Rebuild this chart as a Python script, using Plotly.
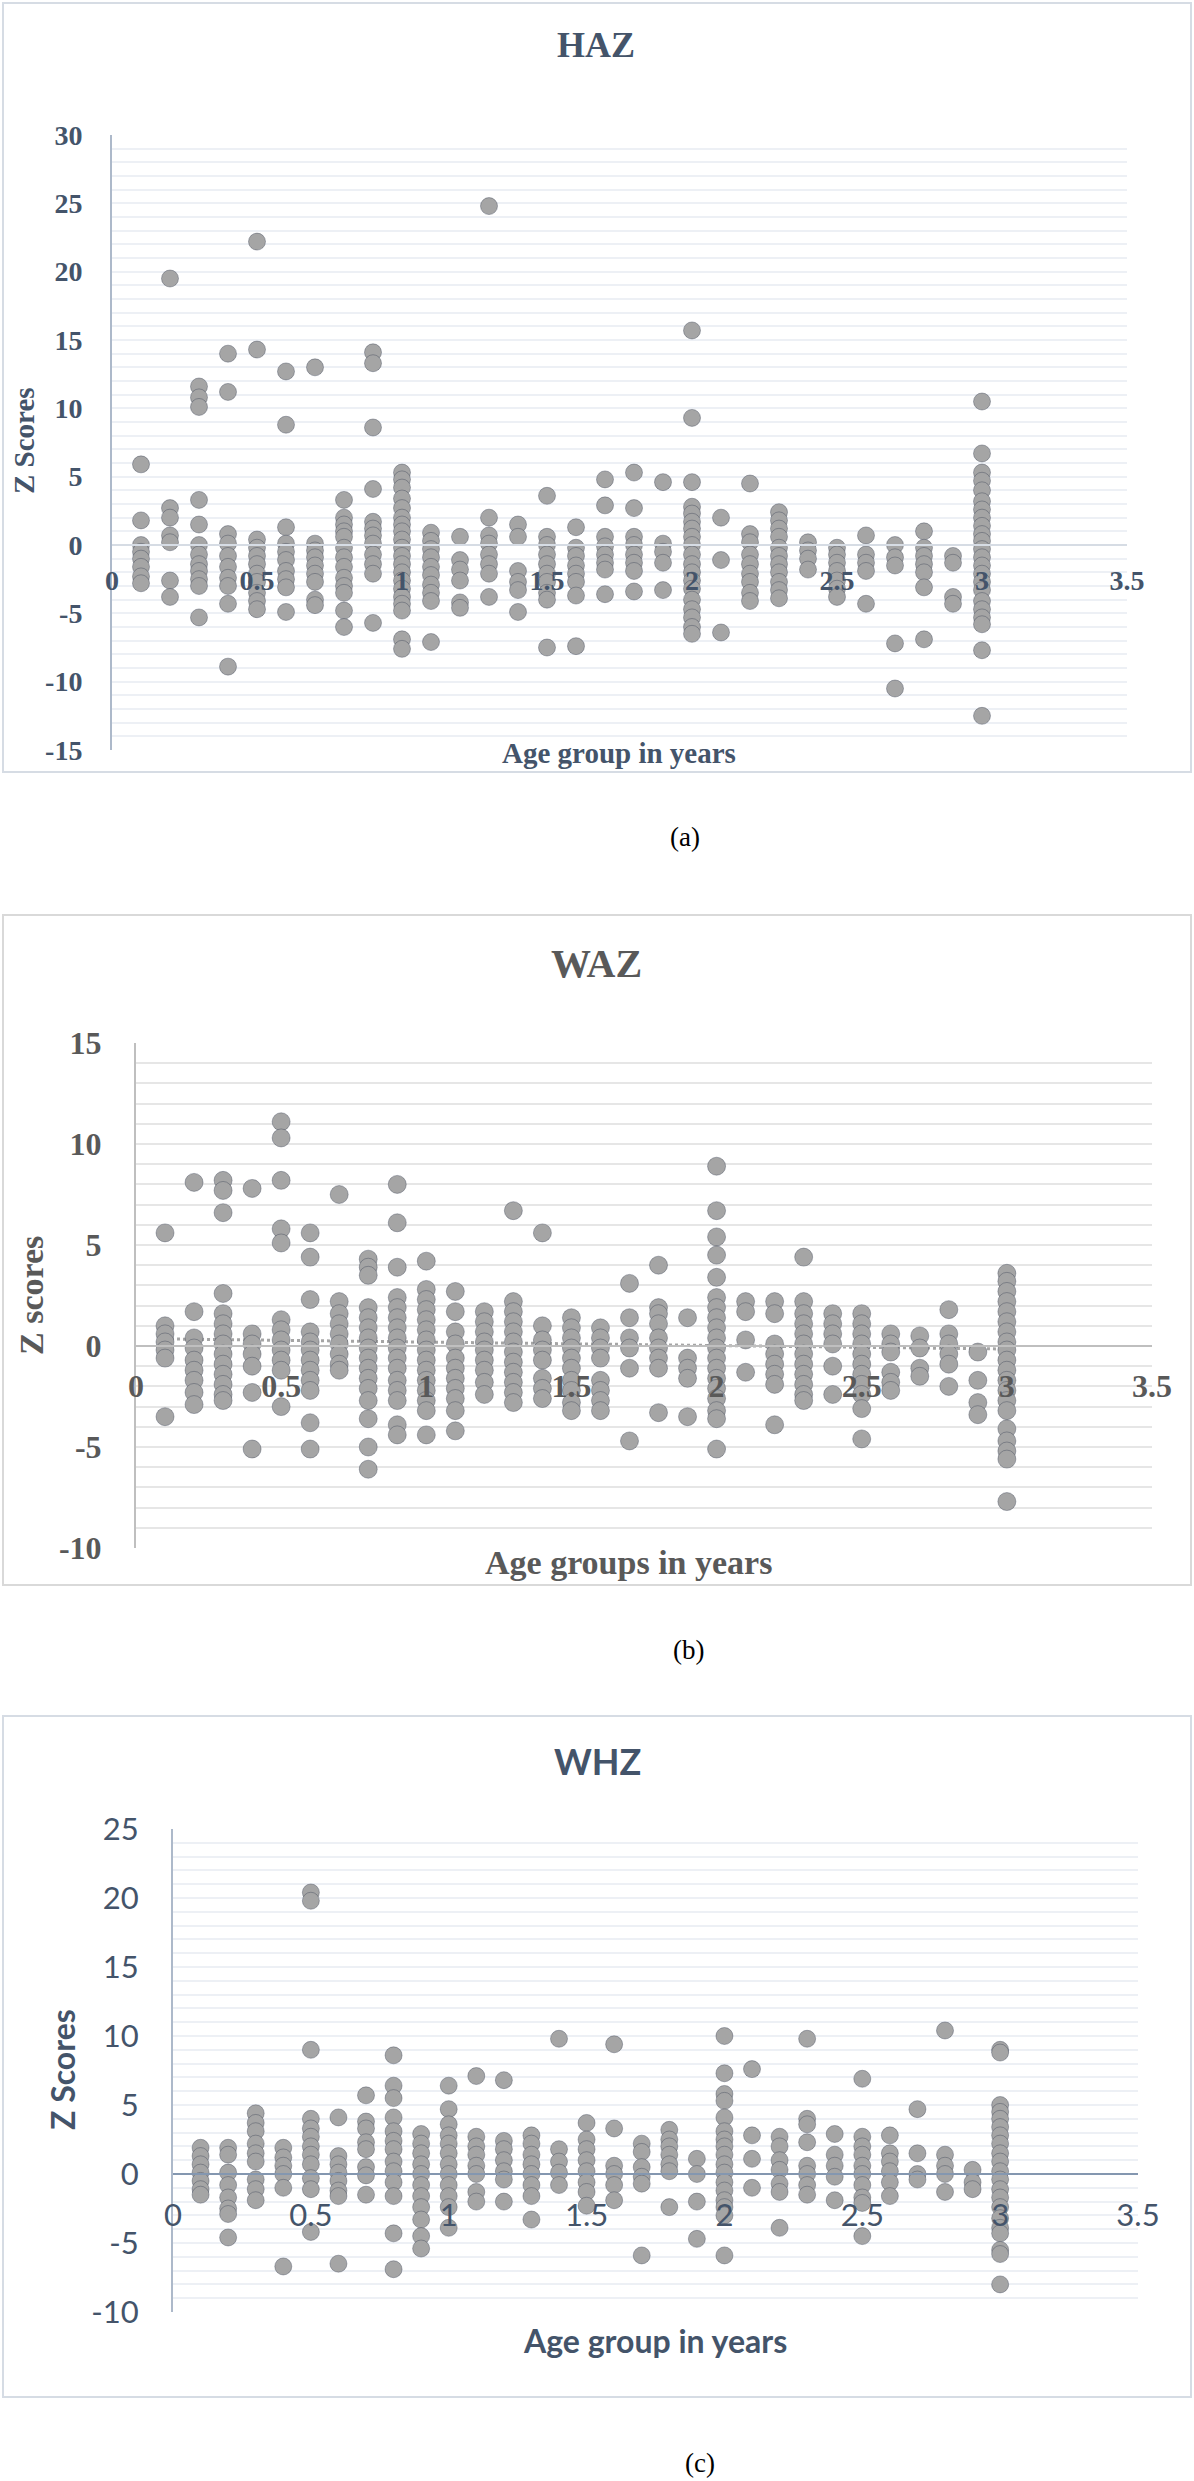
"""
HAZ / WAZ / WHZ z-scores by age group, three stacked scatter panels
(a), (b), (c) drawn on one Plotly page.
"""

import plotly.graph_objects as go

W, H = 1194, 2481

AGE_GROUPS = [0.1, 0.2, 0.3, 0.4, 0.5, 0.6, 0.7, 0.8, 0.9, 1.0,
              1.1, 1.2, 1.3, 1.4, 1.5, 1.6, 1.7, 1.8, 1.9, 2.0,
              2.1, 2.2, 2.3, 2.4, 2.5, 2.6, 2.7, 2.8, 2.9, 3.0]

X_TICKS = [0, 0.5, 1, 1.5, 2, 2.5, 3, 3.5]
X_TICK_TEXT = ["0", "0.5", "1", "1.5", "2", "2.5", "3", "3.5"]

HAZ_Y_TICKS = [-15, -10, -5, 0, 5, 10, 15, 20, 25, 30]
WAZ_Y_TICKS = [-10, -5, 0, 5, 10, 15]
WHZ_Y_TICKS = [-10, -5, 0, 5, 10, 15, 20, 25]

# z-scores per age group (same order as AGE_GROUPS)
HAZ_Z = [
    [5.9, 1.8, 0.0, -0.5, -1.0, -1.6, -2.3, -2.8],
    [19.5, 2.7, 2.0, 0.7, 0.2, -2.6, -3.8],
    [11.6, 10.8, 10.1, 3.3, 1.5, 0.0, -0.7, -1.4, -1.9, -2.5, -3.0, -5.3],
    [14.0, 11.2, 0.8, 0.1, -0.8, -1.6, -2.4, -3.0, -4.3, -8.9],
    [22.2, 14.3, 0.4, -0.2, -0.8, -1.4, -2.1, -2.7, -3.5, -4.1, -4.7],
    [12.7, 8.8, 1.3, 0.1, -0.5, -1.1, -1.9, -2.5, -3.1, -4.9],
    [13.0, 0.1, -0.4, -0.9, -1.5, -2.1, -2.7, -4.0, -4.4],
    [3.3, 2.0, 1.5, 1.0, 0.6, -0.2, -0.9, -1.6, -2.4, -3.0, -3.5, -4.8, -6.0],
    [14.1, 13.3, 8.6, 4.1, 1.7, 1.2, 0.7, 0.1, -0.7, -1.4, -2.1, -5.7],
    [5.3, 4.8, 4.2, 3.4, 2.7, 2.0, 1.5, 1.0, 0.4, -0.2, -0.8, -1.4, -2.0,
     -2.6, -3.2, -3.8, -4.3, -4.8, -6.9, -7.6],
    [0.9, 0.3, -0.3, -0.9, -1.6, -2.2, -2.9, -3.5, -4.1, -7.1],
    [0.6, -1.1, -1.8, -2.6, -4.2, -4.6],
    [24.8, 2.0, 0.7, 0.1, -0.7, -1.4, -2.1, -3.8],
    [1.5, 0.6, -1.9, -2.7, -3.3, -4.9],
    [3.6, 0.6, 0.0, -0.7, -1.4, -2.1, -2.7, -3.5, -4.0, -7.5],
    [1.3, -0.2, -0.8, -1.5, -2.1, -2.7, -3.7, -7.4],
    [4.8, 2.9, 0.6, -0.1, -0.7, -1.3, -1.8, -3.6],
    [5.3, 2.7, 0.6, 0.0, -0.7, -1.3, -1.9, -3.4],
    [4.6, 0.1, -0.5, -1.3, -3.3],
    [15.7, 9.3, 4.6, 2.8, 2.3, 1.7, 1.2, 0.6, 0.0, -0.7, -1.4, -2.0, -2.6,
     -3.2, -4.0, -4.7, -5.3, -6.0, -6.5],
    [2.0, -1.1, -6.4],
    [4.5, 0.8, 0.2, -0.7, -1.4, -2.1, -2.7, -3.5, -4.1],
    [2.4, 1.8, 1.2, 0.6, -0.2, -0.8, -1.4, -2.0, -2.7, -3.3, -3.9],
    [0.2, -0.4, -1.0, -1.8],
    [-0.2, -0.7, -1.3, -1.9, -2.6, -3.2, -3.8],
    [0.7, -0.7, -1.3, -1.9, -4.3],
    [0.0, -0.9, -1.5, -7.2, -10.5],
    [1.0, -0.2, -0.8, -1.4, -2.0, -3.1, -6.9],
    [-0.8, -1.3, -3.8, -4.3],
    [10.5, 6.7, 5.3, 4.7, 4.0, 3.2, 2.6, 2.0, 1.4, 0.8, 0.3, -0.3, -0.9,
     -1.5, -2.1, -2.7, -3.3, -4.1, -4.7, -5.3, -5.8, -7.7, -12.5],
]

WAZ_Z = [
    [5.6, 1.0, 0.6, 0.2, -0.2, -0.6, -3.5],
    [8.1, 1.7, 0.4, -0.1, -0.7, -1.2, -1.7, -2.3, -2.9],
    [8.2, 7.7, 6.6, 2.6, 1.6, 1.1, 0.6, 0.1, -0.4, -0.9, -1.4, -1.9, -2.4, -2.7],
    [7.8, 0.6, 0.1, -0.4, -1.0, -2.3, -5.1],
    [11.1, 10.3, 8.2, 5.8, 5.1, 1.3, 0.8, 0.3, -0.2, -0.7, -1.2, -3.0],
    [5.6, 4.4, 2.3, 0.7, 0.2, -0.2, -0.7, -1.2, -1.7, -2.2, -3.8, -5.1],
    [7.5, 2.2, 1.6, 1.1, 0.6, 0.1, -0.4, -0.9, -1.2],
    [4.3, 3.9, 3.5, 1.9, 1.4, 0.9, 0.4, -0.1, -0.6, -1.1, -1.6, -2.1, -2.7,
     -3.6, -5.0, -6.1],
    [8.0, 6.1, 3.9, 2.4, 1.9, 1.4, 0.9, 0.4, -0.1, -0.6, -1.1, -1.7, -2.2,
     -2.7, -3.9, -4.4],
    [4.2, 2.8, 2.3, 1.8, 1.3, 0.8, 0.3, -0.2, -0.7, -1.2, -1.7, -2.2, -2.7,
     -3.2, -4.4],
    [2.7, 1.7, 0.7, 0.1, -0.6, -1.1, -1.6, -2.1, -2.6, -3.2, -4.2],
    [1.7, 1.2, 0.7, 0.2, -0.2, -0.7, -1.2, -1.8, -2.4],
    [6.7, 2.2, 1.7, 1.2, 0.7, 0.2, -0.3, -0.8, -1.3, -1.8, -2.3, -2.8],
    [5.6, 1.0, 0.3, -0.2, -0.7, -1.6, -2.1, -2.6],
    [1.4, 0.9, 0.4, -0.1, -0.6, -1.1, -1.7, -2.2, -2.8, -3.2],
    [0.9, 0.4, -0.1, -0.6, -1.7, -2.2, -2.7, -3.2],
    [3.1, 1.4, 0.4, -0.1, -1.1, -4.7],
    [4.0, 1.9, 1.6, 1.1, 0.4, -0.1, -0.6, -1.1, -3.3],
    [1.4, -0.6, -1.1, -1.6, -3.5],
    [8.9, 6.7, 5.4, 4.5, 3.4, 2.4, 1.9, 1.4, 0.9, 0.4, -0.1, -0.6, -1.1,
     -1.6, -2.1, -2.6, -3.2, -3.6, -5.1],
    [2.2, 1.7, 0.3, -1.3],
    [2.2, 1.6, 0.1, -0.4, -0.9, -1.4, -1.9, -3.9],
    [4.4, 2.2, 1.6, 1.1, 0.6, 0.1, -0.4, -0.9, -1.4, -1.9, -2.4, -2.7],
    [1.6, 1.1, 0.6, 0.1, -1.0, -2.4],
    [1.6, 1.1, 0.6, 0.1, -0.4, -0.9, -1.4, -1.9, -2.4, -3.1, -4.6],
    [0.6, 0.1, -0.3, -1.3, -1.8, -2.2],
    [0.5, -0.1, -1.1, -1.5],
    [1.8, 0.6, 0.1, -0.4, -0.9, -2.0],
    [-0.3, -1.7, -2.8, -3.4],
    [3.6, 3.2, 2.7, 2.2, 1.7, 1.2, 0.7, 0.2, -0.2, -0.7, -1.2, -1.7, -2.2,
     -2.7, -3.2, -4.1, -4.7, -5.2, -5.6, -7.7],
]

# dotted linear trend shown in the WAZ panel
WAZ_TREND_AGE = [0.1, 3.0]
WAZ_TREND_Z = [0.35, -0.15]

WHZ_Z = [
    [1.9, 1.3, 0.7, 0.1, -0.5, -1.1, -1.5],
    [1.9, 1.4, 0.1, -0.8, -1.7, -2.5, -2.9, -4.6],
    [4.4, 3.7, 3.1, 2.2, 1.5, 0.9, -0.4, -1.1, -1.9],
    [1.9, 1.2, 0.6, 0.0, -1.0, -6.7],
    [20.4, 19.8, 9.0, 4.0, 3.3, 2.7, 2.0, 1.4, 0.7, -0.3, -1.1, -4.2],
    [4.1, 1.3, 0.7, 0.1, -0.5, -1.2, -1.6, -6.5],
    [5.7, 3.8, 3.3, 2.3, 1.8, 0.5, -0.1, -1.5],
    [8.6, 6.4, 5.5, 4.1, 3.1, 2.4, 1.8, 0.9, 0.2, -0.6, -1.6, -4.3, -6.9],
    [2.9, 2.2, 1.5, 0.7, 0.0, -0.8, -1.6, -2.4, -3.3, -4.5, -5.4],
    [6.4, 4.7, 3.6, 2.8, 2.2, 1.5, 0.7, 0.0, -0.8, -1.6, -2.4, -3.9],
    [7.1, 2.7, 2.0, 1.4, 0.6, 0.0, -1.3, -2.0],
    [6.8, 2.4, 1.8, 1.0, 0.2, -0.4, -2.0],
    [2.8, 2.2, 1.4, 0.7, 0.0, -0.8, -1.6, -3.3],
    [9.8, 1.8, 0.9, 0.1, -0.8],
    [3.7, 2.5, 1.8, 1.0, 0.2, -0.6, -1.3, -2.3],
    [9.4, 3.3, 0.6, 0.0, -0.8, -1.9],
    [2.2, 1.6, 0.5, -0.2, -0.7, -5.9],
    [3.2, 2.5, 2.0, 1.4, 0.7, 0.2, -2.4],
    [1.1, 0.0, -2.0, -4.7],
    [10.0, 7.3, 5.8, 5.3, 4.1, 3.1, 2.5, 2.0, 1.4, 0.7, 0.1, -0.6, -1.2,
     -1.9, -2.4, -3.0, -5.9],
    [7.6, 2.8, 1.1, -1.0],
    [2.7, 2.0, 1.0, 0.3, -0.7, -1.3, -3.9],
    [9.8, 4.0, 3.6, 2.3, 0.6, 0.0, -0.8, -1.5],
    [2.9, 1.4, 0.6, -0.2, -1.9],
    [6.9, 2.7, 2.0, 1.4, 0.6, 0.0, -0.8, -1.7, -2.1, -4.5],
    [2.8, 1.5, 0.9, 0.2, -0.6, -1.6],
    [4.7, 1.5, 0.0, -0.4],
    [10.4, 1.4, 0.6, 0.0, -1.3],
    [0.3, -0.6, -1.1],
    [9.0, 8.8, 5.0, 4.5, 4.0, 3.4, 2.8, 2.2, 1.5, 0.9, 0.2, -0.4, -1.1,
     -1.7, -2.4, -3.2, -3.9, -4.3, -5.5, -5.8, -8.0],
]

SERIF = "Liberation Serif"
SANS = "Lato"
BLUE_TEXT = "#44546a"
GRAY_TEXT = "#595959"

# pixel layout of each panel (page is W x H px)
PANELS = [
    dict(key="a", z=HAZ_Z, yticks=HAZ_Y_TICKS, title="HAZ", ytitle="Z Scores",
         xtitle="Age group in years",
         box=(3, 3, 1191, 772), plot=(112, 1127, 135, 750), yrange=(-15, 30),
         title_xy=(596, 45), ytitle_xy=(24, 441), xtitle_xy=(619, 753),
         caption_xy=(685, 837), family=SERIF, color=BLUE_TEXT,
         tick_size=28, title_size=36, axis_title_size=29,
         border="#d6dce4", axis_line="#adb9ca", zero_line="#d6dce4", grid="#edf0f5",
         marker_size=17, x_standoff=10, y_standoff=22),
    dict(key="b", z=WAZ_Z, yticks=WAZ_Y_TICKS, title="WAZ", ytitle="Z scores",
         xtitle="Age groups in years",
         box=(3, 915, 1191, 1585), plot=(136, 1152, 1043, 1548), yrange=(-10, 15),
         title_xy=(596, 963), ytitle_xy=(31, 1296), xtitle_xy=(628, 1562),
         caption_xy=(688, 1650), family=SERIF, color=GRAY_TEXT,
         tick_size=32, title_size=40, axis_title_size=34,
         border="#d9d9d9", axis_line="#bfbfbf", zero_line="#bfbfbf", grid="#e6e6e6",
         marker_size=18, x_standoff=12, y_standoff=26),
    dict(key="c", z=WHZ_Z, yticks=WHZ_Y_TICKS, title="WHZ", ytitle="Z Scores",
         xtitle="Age group in years",
         box=(3, 1716, 1191, 2397), plot=(173, 1138, 1829, 2312), yrange=(-10, 25),
         title_xy=(597, 1761), ytitle_xy=(62, 2070), xtitle_xy=(655, 2340),
         caption_xy=(700, 2463), family=SANS, color=BLUE_TEXT,
         tick_size=31, title_size=36, axis_title_size=32,
         border="#d6dce4", axis_line="#adb9ca", zero_line="#8497b0", grid="#edf0f5",
         marker_size=17, x_standoff=14, y_standoff=26),
]


def fx(px):
    return px / W


def fy(py):
    return 1 - py / H


def flatten(groups):
    xs, ys = [], []
    for age, values in zip(AGE_GROUPS, groups):
        for v in values:
            xs.append(age)
            ys.append(v)
    return xs, ys


def make_figure():
    fig = go.Figure()
    layout = {}
    annotations = []
    shapes = []

    for i, p in enumerate(PANELS, start=1):
        sfx = "" if i == 1 else str(i)
        xref, yref = f"x{sfx}", f"y{sfx}"
        x0, x1, ytop, ybot = p["plot"]
        ymin, ymax = p["yrange"]
        zero_pos = fy(ybot) + (0 - ymin) / (ymax - ymin) * (fy(ytop) - fy(ybot))
        tick_font = dict(family=p["family"], size=p["tick_size"], color=p["color"],
                         weight="normal" if p["key"] == "c" else "bold")

        if p["key"] == "b":
            fig.add_trace(go.Scatter(
                x=WAZ_TREND_AGE, y=WAZ_TREND_Z, mode="lines",
                line=dict(color="#a5a5a5", width=3, dash="dot"),
                hoverinfo="skip", showlegend=False, xaxis=xref, yaxis=yref,
            ))

        xs, ys = flatten(p["z"])
        fig.add_trace(go.Scatter(
            x=xs, y=ys, mode="markers", showlegend=False,
            marker=dict(size=p["marker_size"], color="#a5a5a5",
                        line=dict(width=1, color="rgba(45,55,75,0.35)")),
            xaxis=xref, yaxis=yref,
        ))

        layout[f"xaxis{sfx}"] = dict(
            domain=[fx(x0), fx(x1)], range=[0, 3.5], anchor="free", position=zero_pos,
            tickvals=X_TICKS, ticktext=X_TICK_TEXT, ticks="", tickfont=tick_font,
            ticklabelstandoff=p["x_standoff"], showgrid=False, zeroline=False,
            showline=True, linecolor=p["zero_line"], linewidth=2, automargin=False,
        )
        layout[f"yaxis{sfx}"] = dict(
            domain=[fy(ybot), fy(ytop)], range=[ymin, ymax], anchor=xref,
            tickvals=p["yticks"], ticktext=[str(t) for t in p["yticks"]],
            ticks="", tickfont=tick_font,
            ticklabelstandoff=p["y_standoff"], showgrid=True, gridcolor=p["grid"],
            gridwidth=2, zeroline=False, showline=True, linecolor=p["axis_line"],
            linewidth=2, automargin=False,
            minor=dict(dtick=1, tick0=0, showgrid=True, gridcolor=p["grid"], gridwidth=2),
        )

        # panel frame
        bx0, by0, bx1, by1 = p["box"]
        shapes.append(dict(type="rect", xref="paper", yref="paper",
                           x0=fx(bx0), x1=fx(bx1), y0=fy(by1), y1=fy(by0),
                           line=dict(color=p["border"], width=2), layer="below"))

        bold = dict(family=p["family"], color=p["color"], weight="bold")
        annotations += [
            dict(text=p["title"], x=fx(p["title_xy"][0]), y=fy(p["title_xy"][1]),
                 font=dict(size=p["title_size"], **bold)),
            dict(text=p["ytitle"], x=fx(p["ytitle_xy"][0]), y=fy(p["ytitle_xy"][1]),
                 textangle=-90, font=dict(size=p["axis_title_size"], **bold)),
            dict(text=p["xtitle"], x=fx(p["xtitle_xy"][0]), y=fy(p["xtitle_xy"][1]),
                 font=dict(size=p["axis_title_size"], **bold)),
            dict(text=f"({p['key']})", x=fx(p["caption_xy"][0]), y=fy(p["caption_xy"][1]),
                 font=dict(family=SERIF, size=27, color="#000000")),
        ]

    for a in annotations:
        a.update(xref="paper", yref="paper", xanchor="center", yanchor="middle",
                 showarrow=False)

    fig.update_layout(
        template="none",
        width=W, height=H, autosize=False,
        margin=dict(l=0, r=0, t=0, b=0, pad=0),
        paper_bgcolor="white", plot_bgcolor="white",
        showlegend=False,
        annotations=annotations, shapes=shapes,
        **layout,
    )
    return fig


def main():
    fig = make_figure()
    # drop the browser's default 8px body margin so page pixels line up
    fig.write_html("out.html", config={"displayModeBar": False},
                   post_script="document.body.style.margin='0';")


if __name__ == "__main__":
    main()
